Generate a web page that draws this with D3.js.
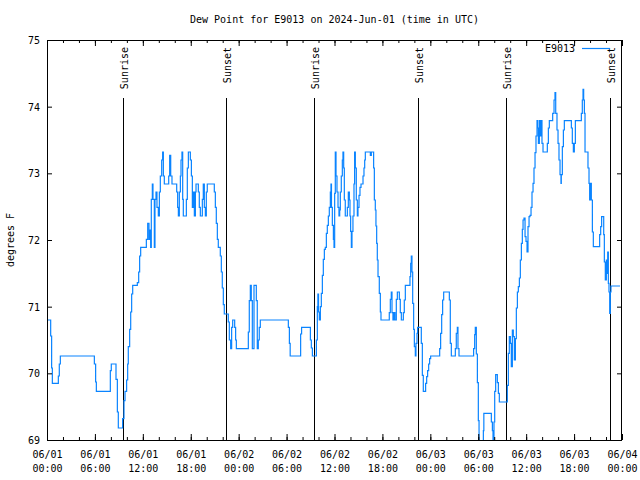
<!DOCTYPE html>
<html><head><meta charset="utf-8">
<script src="https://cdn.jsdelivr.net/npm/d3@7"></script>
<style>
body{margin:0;background:#fff;}
text{font-family:"DejaVu Sans Mono",monospace;font-size:10px;fill:#000;}
</style></head>
<body><svg id="c" width="640" height="480"></svg>
<script>
const title = "Dew Point for E9013 on 2024-Jun-01 (time in UTC)";
const seriesName = "E9013";
const yLabel = "degrees F";
const startUTC = Date.UTC(2024, 5, 1);
const spanHours = 72;
const yTicks = [69, 70, 71, 72, 73, 74, 75];
// [hours since 06/01 00:00 UTC, sunrise/sunset label]
const sunEvents = [[9.5, "Sunrise"], [22.45, "Sunset"], [33.45, "Sunrise"], [46.47, "Sunset"], [57.47, "Sunrise"], [70.5, "Sunset"]];
const sunLineTop = 74.13;
// hours since 06/01 00:00 UTC
const hours = [0.10,0.46,0.58,0.67,1.42,1.54,1.67,5.93,6.09,6.18,7.93,8.05,8.64,8.81,8.93,9.47,9.64,9.77,9.97,10.10,10.18,10.35,10.48,10.60,10.73,11.31,11.48,11.60,11.73,12.44,12.61,12.77,12.90,12.98,13.06,13.19,13.27,13.44,13.52,13.65,13.77,13.94,14.07,14.19,14.36,14.48,14.57,14.69,15.24,15.36,15.49,15.65,16.24,16.36,16.45,16.57,16.70,16.78,16.90,16.99,17.07,17.45,17.57,17.70,17.95,18.08,18.20,18.32,18.45,18.58,18.66,18.95,19.07,19.20,19.45,19.57,19.70,19.83,19.95,20.07,20.95,21.08,21.20,21.33,21.45,21.70,21.83,21.95,22.08,22.20,22.70,22.83,23.00,23.12,23.25,23.50,23.62,23.71,25.21,25.33,25.46,25.58,25.71,25.92,26.21,26.33,26.46,26.58,26.71,30.22,30.35,30.45,31.76,31.88,31.98,32.98,33.10,33.23,33.73,33.85,33.92,34.00,34.10,34.23,34.35,34.48,34.60,34.73,34.85,34.98,35.10,35.23,35.35,35.48,35.56,35.62,35.73,35.86,35.94,36.02,36.10,36.19,36.31,36.44,36.56,36.65,36.73,36.85,36.98,37.06,37.15,37.23,37.35,37.61,37.73,37.86,37.94,38.02,38.11,38.19,38.31,38.44,38.52,38.61,38.73,38.86,38.94,39.07,39.19,39.32,39.57,39.69,39.78,39.86,40.49,40.61,40.90,40.99,41.11,41.19,41.28,41.36,41.45,41.61,41.74,41.82,42.86,42.99,43.11,43.20,43.32,43.45,43.57,43.74,43.87,44.12,44.24,44.37,44.62,44.74,44.87,45.45,45.54,45.62,45.70,45.79,45.91,46.00,46.12,46.20,46.33,46.41,46.87,47.00,47.12,47.41,47.54,47.66,47.79,47.91,48.04,49.17,49.29,49.42,49.54,49.67,50.38,50.50,50.63,51.13,51.25,51.38,51.46,51.59,53.42,53.55,53.63,53.76,53.89,54.01,54.10,54.64,54.70,55.64,55.77,55.85,55.97,56.06,56.18,56.39,56.52,56.64,57.64,57.77,57.89,58.02,58.14,58.27,58.39,58.52,58.65,58.77,58.90,59.02,59.15,59.27,59.40,59.52,59.61,59.73,59.86,59.98,60.11,60.23,60.36,60.48,60.61,60.73,60.86,60.98,61.11,61.23,61.36,61.44,61.53,61.65,61.78,61.86,61.98,62.11,62.65,62.78,62.90,63.32,63.49,63.61,63.70,63.86,63.99,64.11,64.24,64.36,64.40,64.53,64.66,64.78,65.66,65.78,65.91,66.03,66.16,66.91,67.03,67.12,67.20,67.29,67.37,67.74,67.87,67.95,68.04,68.16,68.29,68.41,69.20,69.33,69.45,69.71,69.79,69.91,70.04,70.12,70.21,70.29,70.37,70.46,70.54,70.62,71.75];
// dew point, degrees F
const dewPoint = [70.80,70.56,70.08,69.85,69.96,70.14,70.26,70.14,69.87,69.73,70.04,70.14,69.91,69.42,69.18,69.32,69.59,69.73,69.90,70.14,70.40,70.66,70.92,71.19,71.32,71.36,71.52,71.76,71.89,72.01,72.25,72.01,72.15,71.89,72.61,72.84,72.61,71.89,72.61,72.72,72.49,72.36,72.72,72.96,73.20,73.32,72.96,72.84,72.96,73.27,72.96,72.84,72.72,72.49,72.36,72.72,72.96,73.20,73.32,72.61,72.36,72.61,73.08,73.32,73.20,72.96,72.49,72.72,72.36,72.72,72.84,72.72,72.49,72.36,72.61,72.84,72.49,72.36,72.72,72.84,72.72,72.49,72.25,72.01,71.89,71.76,71.52,71.28,71.03,70.89,70.77,70.50,70.37,70.69,70.80,70.69,70.50,70.37,70.62,71.09,71.32,71.09,70.37,71.32,71.09,70.37,70.50,70.69,70.80,70.69,70.45,70.26,70.59,70.69,70.69,70.50,70.38,70.26,70.50,71.00,71.19,70.92,70.80,71.00,71.20,71.47,71.71,71.86,71.89,72.10,72.22,72.36,72.49,72.72,72.84,72.49,72.22,72.01,71.89,72.70,73.32,72.96,72.72,72.49,72.36,72.45,72.72,72.96,73.20,73.32,73.08,72.60,72.36,72.49,72.72,72.60,72.36,72.13,71.89,72.13,72.36,72.84,73.32,73.08,72.60,72.36,72.49,72.67,72.79,72.84,72.96,73.08,73.20,73.32,73.27,73.32,73.08,72.60,72.45,72.21,71.95,71.70,71.45,71.20,70.92,70.80,70.91,71.11,71.22,70.91,70.80,70.91,70.80,71.11,71.22,71.11,70.91,70.80,70.91,71.10,71.32,71.45,71.65,71.76,71.52,71.05,70.66,70.40,70.26,70.45,70.60,70.69,70.45,69.97,69.73,69.85,69.95,70.04,70.14,70.22,70.26,70.37,70.60,70.88,71.10,71.22,71.10,70.45,70.26,70.37,70.60,70.69,70.37,70.26,70.37,70.58,70.69,70.29,69.86,69.29,68.95,69.14,69.40,69.27,69.14,68.95,69.27,69.73,69.98,69.86,69.70,69.57,69.82,70.30,70.55,70.45,70.10,70.65,70.55,70.20,70.52,70.98,71.22,71.30,71.43,71.70,71.95,72.16,72.30,72.33,72.05,71.98,71.82,72.20,72.35,72.37,72.49,72.72,72.85,73.08,73.31,73.56,73.79,73.68,73.45,73.79,73.56,73.79,73.45,73.32,73.45,73.68,73.79,73.90,74.10,74.21,73.90,73.65,73.45,73.20,72.98,72.85,72.98,73.40,73.65,73.79,73.68,73.45,73.32,73.45,73.79,73.90,74.10,74.26,74.10,73.90,73.32,73.08,72.85,72.60,72.85,72.60,72.12,71.90,72.08,72.20,72.35,72.08,71.67,71.40,71.70,71.50,71.82,71.35,71.22,70.90,71.22,71.31,71.31];

const H = 3600e3;
const toDate = h => new Date(startUTC + h * H);
const data = hours.map((h, i) => ({t: toDate(h), v: dewPoint[i]}));

const L = 47, R = 622, T = 40, B = 440;
const x = d3.scaleUtc().domain([toDate(0), toDate(spanHours)]).range([L, R]);
const y = d3.scaleLinear().domain([69, 75]).range([B, T]);
const svg = d3.select("#c");

svg.append("text").attr("x", (L + R) / 2).attr("y", 23).attr("text-anchor", "middle").text(title);
svg.append("text").attr("transform", `translate(14,${(T + B) / 2}) rotate(-90)`).attr("text-anchor", "middle").text(yLabel);

svg.append("defs").append("clipPath").attr("id", "clip").append("rect")
  .attr("x", L).attr("y", T).attr("width", R - L).attr("height", B - T);

// sunrise / sunset markers
const ev = svg.append("g");
sunEvents.forEach(([h, lab]) => {
  const xx = Math.round(x(toDate(h))) + 0.5;
  ev.append("line").attr("x1", xx).attr("x2", xx).attr("y1", y(sunLineTop)).attr("y2", y(69))
    .attr("stroke", "#000").attr("stroke-width", 1);
  ev.append("text").attr("transform", `translate(${xx + 4},${T + 7}) rotate(-90)`)
    .attr("text-anchor", "end").text(lab);
});

// data line
const line = d3.line().x(d => x(d.t)).y(d => y(d.v)).curve(d3.curveStepAfter);
svg.append("path").datum(data).attr("clip-path", "url(#clip)").attr("d", line)
  .attr("fill", "none").attr("stroke", "#0a84ff").attr("stroke-width", 1.2);

// axes (inward ticks)
const major = d3.utcHour.every(6), minor = d3.utcHour.every(2);
function styleAxis(g) { g.select(".domain").remove(); g.selectAll("line").attr("stroke", "#000"); }
svg.append("g").attr("transform", `translate(0,${B})`)
  .call(d3.axisBottom(x).ticks(minor).tickSize(-3).tickFormat("")).call(styleAxis);
svg.append("g").attr("transform", `translate(0,${T})`)
  .call(d3.axisTop(x).ticks(minor).tickSize(-3).tickFormat("")).call(styleAxis);
svg.append("g").attr("transform", `translate(0,${T})`)
  .call(d3.axisTop(x).ticks(major).tickSize(-6).tickFormat("")).call(styleAxis);
const xb = svg.append("g").attr("transform", `translate(0,${B})`)
  .call(d3.axisBottom(x).ticks(major).tickSize(-6).tickPadding(18).tickFormat(d3.utcFormat("%m/%d")))
  .call(styleAxis);
xb.selectAll(".tick text").each(function(d) {
  const t = d3.select(this);
  t.text(null).attr("font-family", null).attr("font-size", null).attr("dy", null).attr("y", 0);
  t.append("tspan").attr("x", 0).attr("y", 18).text(d3.utcFormat("%m/%d")(d));
  t.append("tspan").attr("x", 0).attr("y", 32).text(d3.utcFormat("%H:%M")(d));
});
svg.append("g").attr("transform", `translate(${L},0)`)
  .call(d3.axisLeft(y).tickValues(yTicks).tickSize(-5).tickPadding(7).tickFormat(d3.format("d")))
  .call(styleAxis).selectAll("text").attr("font-family", null).attr("font-size", null).attr("dy", "0.35em");
svg.append("g").attr("transform", `translate(${R},0)`)
  .call(d3.axisRight(y).tickValues(yTicks).tickSize(-5).tickFormat("")).call(styleAxis);

svg.append("rect").attr("x", L + 0.5).attr("y", T + 0.5).attr("width", R - L - 1).attr("height", B - T)
  .attr("fill", "none").attr("stroke", "#000").attr("stroke-width", 1);

// legend
svg.append("text").attr("x", 575).attr("y", 52).attr("text-anchor", "end").text(seriesName);
svg.append("line").attr("x1", 582).attr("x2", 610).attr("y1", 48.5).attr("y2", 48.5)
  .attr("stroke", "#0a84ff").attr("stroke-width", 1.2);
</script></body></html>
